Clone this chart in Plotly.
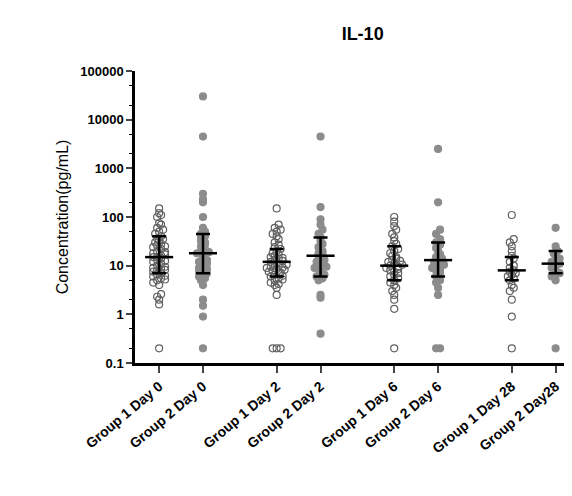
import numpy as np
import plotly.graph_objects as go

categories = ["Group 1 Day 0", "Group 2 Day 0", "Group 1 Day 2", "Group 2 Day 2",
              "Group 1 Day 6", "Group 2 Day 6", "Group 1 Day 28", "Group 2 Day28"]
positions = [0, 1, 2.68, 3.68, 5.36, 6.36, 8.04, 9.04]

g1d0 = [0.2, 1.6, 2.0, 2.3, 2.6, 4, 4.5, 5, 5.5, 6, 6.5, 7, 7.5, 8, 8.5, 9, 10, 11, 12, 13, 14, 15, 15, 16,
        17, 18, 20, 22, 24, 26, 28, 30, 33, 36, 40, 45, 50, 55, 60, 70, 75, 100, 110, 150, 120,
        5.2, 6.2, 8.2, 9.5, 12.5, 19, 25, 35]
g2d0 = [0.2, 0.9, 1.5, 2.0, 4, 5, 6, 6.5, 7, 7.5, 8, 9, 10, 11, 12, 14, 16, 18, 20, 22, 25, 28, 32,
        36, 40, 45, 50, 60, 100, 200, 230, 300, 4500, 30000, 5.5, 8.5, 13, 19, 30]
g1d2 = [0.2, 0.2, 0.2, 2.5, 3.5, 4, 4.5, 5, 5.5, 6, 6.5, 7, 7.5, 8, 8.5, 9, 9.5, 10, 11, 12, 13, 14,
        15, 16, 17, 18, 20, 22, 24, 27, 30, 35, 40, 45, 50, 55, 60, 70, 150,
        4.2, 5.2, 6.2, 7.2, 8.2, 9.2, 10.5, 12.5, 14.5]
g2d2 = [0.4, 2.2, 2.5, 5, 5.5, 6, 7, 8, 9, 10, 11, 12, 14, 16, 18, 20, 24, 28, 32, 38, 45, 55, 70,
        90, 160, 4500, 6.5, 9.5, 13, 17]
g1d6 = [0.2, 1.3, 2, 2.5, 3, 3.5, 4, 4.5, 5, 5.5, 6, 6.5, 7, 8, 9, 10, 11, 12, 13, 14, 16, 18, 20,
        22, 25, 28, 32, 38, 45, 55, 65, 80, 100, 7.5, 8.5, 9.5, 10.5, 12.5, 15]
g2d6 = [0.2, 0.2, 2.5, 3.5, 4.5, 5, 6, 7, 8, 9, 10, 11, 12, 13, 15, 17, 20, 23, 27, 30, 35, 45, 55,
        200, 2500, 8.5, 10.5, 14]
g1d28 = [0.2, 0.9, 2, 3, 3.5, 4, 5, 5.5, 6, 6.5, 7, 7.5, 8, 9, 10, 12, 14, 16, 20, 25, 30, 35, 110]
g2d28 = [0.2, 5, 6, 6.5, 7, 8, 9, 10, 11, 12, 13, 14, 16, 18, 20, 25, 60]
series = [g1d0, g2d0, g1d2, g2d2, g1d6, g2d6, g1d28, g2d28]

medians = [15, 18, 12, 16, 10, 13, 8, 11]
q1 = [7, 7, 6, 6, 5, 6, 5, 7]
q3 = [40, 45, 22, 38, 25, 30, 15, 20]

fig = go.Figure()
for i, (vals, pos) in enumerate(zip(series, positions)):
    v = np.array(vals, dtype=float)
    lv = np.log10(v)
    xs = np.zeros(len(v))
    bins = np.round(lv / 0.1).astype(int)
    for b in np.unique(bins):
        idx = np.where(bins == b)[0]
        n = len(idx)
        offs = (np.arange(n) - (n - 1) / 2) * 0.09
        xs[idx] = pos + offs
    g1 = i % 2 == 0
    fig.add_trace(go.Scatter(
        x=xs, y=v, mode="markers", showlegend=False,
        marker=dict(size=7, symbol="circle-open" if g1 else "circle",
                    color="#606060" if g1 else "#8c8c8c",
                    line=dict(width=1.2, color="#606060" if g1 else "#8c8c8c"))))
    fig.add_trace(go.Scatter(
        x=[pos], y=[medians[i]], mode="markers", showlegend=False,
        marker=dict(size=1, color="black", symbol="line-ew"),
        error_y=dict(type="data", symmetric=False, array=[q3[i] - medians[i]],
                     arrayminus=[medians[i] - q1[i]], color="black", thickness=2.5, width=7)))
    fig.add_trace(go.Scatter(
        x=[pos - 0.32, pos + 0.32], y=[medians[i], medians[i]], mode="lines",
        showlegend=False, line=dict(color="black", width=2.5)))

fig.update_layout(
    width=572, height=496, plot_bgcolor="white", paper_bgcolor="white",
    margin=dict(l=127, r=2, t=63, b=141),
    font=dict(family="Liberation Sans, Arial", size=13, color="black"),
    title=dict(text="<b>IL-10</b>", x=0.62, xanchor="center", y=0.96, font=dict(size=18)),
)
fig.update_yaxes(type="log", range=[-1, 5], tickvals=[0.1, 1, 10, 100, 1000, 10000, 100000],
                 ticktext=["<b>0.1</b>", "<b>1</b>", "<b>10</b>", "<b>100</b>", "<b>1000</b>",
                           "<b>10000</b>", "<b>100000</b>"],
                 showline=True, linewidth=2.5, linecolor="black", ticks="outside", ticklen=6,
                 tickwidth=2, showgrid=False, zeroline=False,
                 minor=dict(ticks="outside", ticklen=3, tickwidth=1, tickcolor="black", showgrid=False),
                 title=dict(text="Concentration(pg/mL)", font=dict(size=16), standoff=8))
fig.update_xaxes(range=[-0.55, 9.55], tickvals=positions,
                 ticktext=["<b>" + c + "</b>" for c in categories], tickangle=-40,
                 showline=True, linewidth=2.5, linecolor="black", ticks="outside", ticklen=7,
                 tickwidth=2, showgrid=False, zeroline=False, tickfont=dict(size=14))
fig.write_html("out.html")
